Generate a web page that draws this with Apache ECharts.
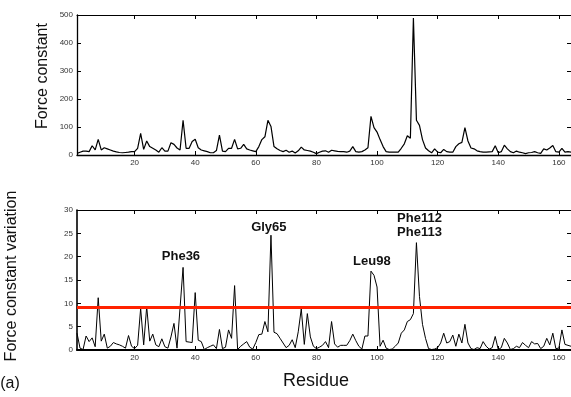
<!DOCTYPE html>
<html>
<head>
<meta charset="utf-8">
<script src="https://cdn.jsdelivr.net/npm/echarts@6/dist/echarts.min.js"></script>
<style>
  html, body { margin: 0; padding: 0; background: #fff; }
  #chart { width: 571px; height: 397px; }
</style>
</head>
<body>
<div id="chart"></div>
<script>
// residue numbers 1..164
const residues = [];
for (let r = 1; r <= 164; r++) residues.push(r);

// top panel: force constant per residue
const forceConstant = [
  6, 10, 14, 14, 12, 33, 18, 56, 18, 26,        // 1-10
  22, 18, 14, 11, 9, 8, 9, 10, 12, 12,          // 11-20
  24, 77, 20, 50, 30, 24, 18, 10, 26, 14,       // 21-30
  14, 44, 38, 25, 18, 124, 24, 24, 48, 56,      // 31-40
  26, 18, 15, 12, 8, 8, 16, 71, 14, 12,         // 41-50
  24, 24, 56, 22, 24, 38, 22, 18, 15, 12,       // 51-60
  30, 55, 65, 124, 102, 30, 22, 16, 12, 17,     // 61-70
  10, 14, 7, 15, 28, 18, 16, 14, 10, 5,         // 71-80
  10, 14, 15, 10, 17, 15, 13, 12, 12, 10,       // 81-90
  14, 30, 12, 10, 12, 18, 26, 138, 98, 82,      // 91-100
  55, 30, 12, 10, 10, 10, 10, 24, 40, 69,       // 101-110
  60, 489, 124, 106, 55, 25, 15, 8, 22, 10,     // 111-120
  8, 20, 12, 10, 10, 30, 40, 45, 98, 50,        // 121-130
  25, 22, 15, 12, 10, 10, 11, 12, 33, 8,        // 131-140
  12, 35, 22, 12, 8, 14, 10, 8, 5, 8,           // 141-150
  9, 12, 8, 6, 22, 18, 25, 34, 12, 10,          // 151-160
  24, 10, 12, 10                                // 161-164
];

// bottom panel: force constant variation per residue
const forceVariation = [
  3.6, 0.4, 0.1, 3.0, 1.8, 2.6, 0.7, 11.2, 1.9, 3.4,      // 1-10
  0.4, 0.8, 1.6, 1.3, 1.1, 0.8, 0.4, 3.1, 0.8, 0.3,       // 11-20
  1.0, 8.9, 1.1, 9.3, 1.9, 3.4, 1.1, 0.7, 2.4, 0.7,       // 21-30
  0.4, 2.8, 5.7, 0.4, 9.0, 17.7, 1.8, 1.7, 1.6, 12.3,     // 31-40
  2.1, 1.8, 0.1, 0.5, 0.8, 1.1, 0.3, 4.4, 0.3, 0.6,       // 41-50
  4.3, 2.5, 13.8, 0.1, 0.8, 1.3, 1.8, 0.6, 0.2, 1.6,      // 51-60
  3.3, 3.4, 6.1, 3.9, 24.6, 3.8, 3.5, 2.5, 1.5, 0.5,      // 61-70
  1.0, 2.2, 0.5, 3.9, 8.8, 1.2, 7.8, 2.8, 0.8, 0.3,       // 71-80
  0.6, 1.0, 1.8, 0.5, 6.1, 1.3, 0.6, 1.0, 1.0, 1.0,       // 81-90
  2.0, 3.4, 2.0, 0.8, 0.2, 3.0, 3.0, 16.9, 16.0, 13.5,    // 91-100
  0.8, 2.1, 0.4, 0.1, 0.2, 0.8, 1.5, 3.6, 4.3, 6.1,       // 101-110
  6.5, 7.8, 23.0, 11.5, 5.5, 2.5, 0.3, 0.1, 0.2, 0.5,     // 111-120
  1.5, 3.6, 1.5, 1.8, 3.2, 0.8, 3.4, 1.5, 5.5, 1.5,       // 121-130
  0.3, 0.1, 0.5, 0.3, 1.8, 0.8, 0.2, 0.5, 2.9, 0.1,       // 131-140
  0.5, 2.5, 1.5, 0.1, 0.3, 0.8, 0.5, 1.6, 1.0, 0.5,       // 141-150
  1.8, 1.3, 1.4, 0.3, 0.8, 2.5, 1.1, 3.6, 0.3, 0.4,       // 151-160
  4.3, 1.2, 1.0, 0.8                                      // 161-164
];

const threshold = 9.1;
const xTicks = [20, 40, 60, 80, 100, 120, 140, 160];

// labelled peaks: [text, residue where label sits, residue of the peak, gap above peak]
const peakLabels = [
  ["Phe36", 35.3, 36, 4],
  ["Gly65", 64.3, 65, 1],
  ["Leu98", 98.3, 98, 3],
  ["Phe112\nPhe113", 114, 113, 3]
];

const font = "'Liberation Sans', Arial, Helvetica, sans-serif";
const tickColor = "#333";

function xAxes(gridIndex, lineWidth) {
  return [
    {
      type: "value", gridIndex, min: 1, max: 164, position: "bottom",
      axisLine: { onZero: false, lineStyle: { color: "#000", width: lineWidth } },
      axisTick: { inside: true, length: 4, customValues: xTicks, lineStyle: { color: "#000" } },
      axisLabel: { customValues: xTicks, fontSize: 8, color: tickColor, fontFamily: font, margin: 4 },
      splitLine: { show: false }
    },
    {
      type: "value", gridIndex, min: 1, max: 164, position: "top",
      axisLine: { onZero: false, lineStyle: { color: "#000", width: 1 } },
      axisTick: { inside: true, length: 4, customValues: xTicks, lineStyle: { color: "#000" } },
      axisLabel: { show: false },
      splitLine: { show: false }
    }
  ];
}

function yAxes(gridIndex, max, interval, lineWidth) {
  return [
    {
      type: "value", gridIndex, min: 0, max, interval, position: "left",
      axisLine: { show: true, lineStyle: { color: "#000", width: lineWidth } },
      axisTick: { show: true, inside: true, length: 4, lineStyle: { color: "#000" } },
      axisLabel: { fontSize: 8, color: tickColor, fontFamily: font, margin: 4 },
      splitLine: { show: false }
    },
    {
      type: "value", gridIndex, min: 0, max, interval, position: "right",
      axisLine: { show: true, lineStyle: { color: "#000", width: 1 } },
      axisTick: { show: true, inside: true, length: 4, lineStyle: { color: "#000" } },
      axisLabel: { show: false },
      splitLine: { show: false }
    }
  ];
}

const chart = echarts.init(document.getElementById("chart"), null, { renderer: "canvas" });

chart.setOption({
  animation: false,
  backgroundColor: "#fff",
  grid: [
    { left: 77, right: -1, top: 15, height: 140 },
    { left: 77, right: -1, top: 210, height: 140 }
  ],
  xAxis: [...xAxes(0, 1.3), ...xAxes(1, 2)],
  yAxis: [...yAxes(0, 500, 100, 1.3), ...yAxes(1, 30, 5, 1.6)],
  graphic: [
    {
      type: "text", x: 43, y: 76, rotation: Math.PI / 2,
      style: { text: "Force constant", font: "16px " + font, fill: "#111", align: "center", verticalAlign: "middle" }
    },
    {
      type: "text", x: 12, y: 276, rotation: Math.PI / 2,
      style: { text: "Force constant variation", font: "16px " + font, fill: "#111", align: "center", verticalAlign: "middle" }
    },
    {
      type: "text", x: 316, y: 381,
      style: { text: "Residue", font: "18px " + font, fill: "#111", align: "center", verticalAlign: "middle" }
    },
    {
      type: "text", x: 10, y: 384,
      style: { text: "(a)", font: "16px " + font, fill: "#111", align: "center", verticalAlign: "middle" }
    }
  ],
  series: [
    {
      type: "line",
      xAxisIndex: 0, yAxisIndex: 0,
      data: residues.map((r, i) => [r, forceConstant[i]]),
      symbol: "none",
      lineStyle: { color: "#000", width: 1.2 },
      z: 3
    },
    {
      type: "line",
      xAxisIndex: 2, yAxisIndex: 2,
      data: residues.map((r, i) => [r, forceVariation[i]]),
      symbol: "none",
      lineStyle: { color: "#000", width: 1 },
      z: 3,
      markLine: {
        silent: true,
        symbol: "none",
        label: { show: false },
        lineStyle: { color: "#ff2200", width: 3, type: "solid" },
        data: [{ yAxis: threshold }]
      },
      markPoint: {
        symbol: "circle",
        symbolSize: 0,
        label: {
          show: true,
          position: "top",
          formatter: (p) => p.name,
          fontFamily: font,
          fontWeight: "bold",
          fontSize: 13,
          lineHeight: 14,
          color: "#111",
          align: "center"
        },
        data: peakLabels.map(([name, x, peak, gap]) => ({
          name,
          coord: [x, forceVariation[peak - 1]],
          label: { distance: gap }
        }))
      }
    }
  ]
});
</script>
</body>
</html>
